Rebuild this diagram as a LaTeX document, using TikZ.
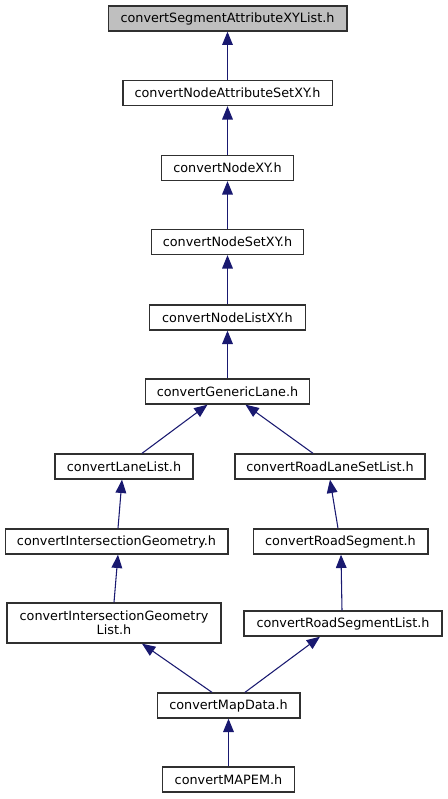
\documentclass[tikz,border=0pt]{standalone}
\usepackage{fontspec}
\setmainfont{DejaVu Sans}
\usetikzlibrary{arrows.meta,calc}
\definecolor{edge}{HTML}{191970}
\definecolor{rootfill}{HTML}{BFBFBF}
\definecolor{frame}{HTML}{303030}

\begin{document}
\begin{tikzpicture}[x=0.75pt, y=-0.75pt,
  font=\fontsize{9.6}{10.8}\selectfont,
  >={Triangle[length=10pt,width=8pt]},
  dep/.style={->, edge, line width=0.8pt},
  file/.style={draw=frame, line width=1pt, fill=white, inner sep=0pt,
               minimum height=18.75pt, align=center},
  root/.style={file, fill=rootfill}]

\useasboundingbox (0,0) rectangle (447,799);

% header chain
\node[root, minimum width=179pt] (seglist) at (227.5,18.5) {convertSegmentAttributeXYList.h};
\node[file, minimum width=157pt] (nodeattr) at (227.5,93) {convertNodeAttributeSetXY.h};
\node[file, minimum width=99pt] (nodexy) at (227.5,168) {convertNodeXY.h};
\node[file, minimum width=114pt] (nodeset) at (227.5,242) {convertNodeSetXY.h};
\node[file, minimum width=117pt] (nodelist) at (227.5,317.5) {convertNodeListXY.h};
\node[file, minimum width=123pt] (genlane) at (227.5,391.5) {convertGenericLane.h};

% left branch
\node[file, minimum width=103.5pt] (lanelist) at (124,466.5) {convertLaneList.h};
\node[file, minimum width=167pt] (intgeom) at (116.5,541.5) {convertIntersectionGeometry.h};
\node[file, minimum width=160.5pt, minimum height=30pt] (intgeomlist) at (114,623)
  {convertIntersectionGeometry\\List.h};

% right branch
\node[file, minimum width=142.5pt] (roadlaneset) at (330,466.5) {convertRoadLaneSetList.h};
\node[file, minimum width=131pt] (roadseg) at (340.5,541.5) {convertRoadSegment.h};
\node[file, minimum width=148.5pt] (roadseglist) at (343,623.5) {convertRoadSegmentList.h};

% bottom
\node[file, minimum width=107pt] (mapdata) at (228.5,705.5) {convertMapData.h};
\node[file, minimum width=99pt] (mapem) at (228.5,779.5) {convertMAPEM.h};

% includes
\draw[dep] (nodeattr) -- (seglist);
\draw[dep] (nodexy) -- (nodeattr);
\draw[dep] (nodeset) -- (nodexy);
\draw[dep] (nodelist) -- (nodeset);
\draw[dep] (genlane) -- (nodelist);
\draw[dep] ($(lanelist.north)+(18,0)$) -- ($(genlane.south)+(-20,0)$);
\draw[dep] ($(roadlaneset.north)+(-17,0)$) -- ($(genlane.south)+(18,0)$);
\draw[dep] ($(intgeom.north)+(1.5,0)$) -- ($(lanelist.south)+(-2,0)$);
\draw[dep] ($(roadseg.north)+(-2.5,0)$) -- (roadlaneset.south);
\draw[dep] (intgeomlist.north) -- ($(intgeom.south)+(1.5,0)$);
\draw[dep] ($(roadseglist.north)+(-1,0)$) -- ($(roadseg.south)+(0.5,0)$);
\draw[dep] ($(mapdata.north)+(-16.5,0)$) -- ($(intgeomlist.south)+(28,0)$);
\draw[dep] ($(mapdata.north)+(16.5,0)$) -- ($(roadseglist.south)+(-23,0)$);
\draw[dep] (mapem) -- (mapdata);

\end{tikzpicture}
\end{document}
